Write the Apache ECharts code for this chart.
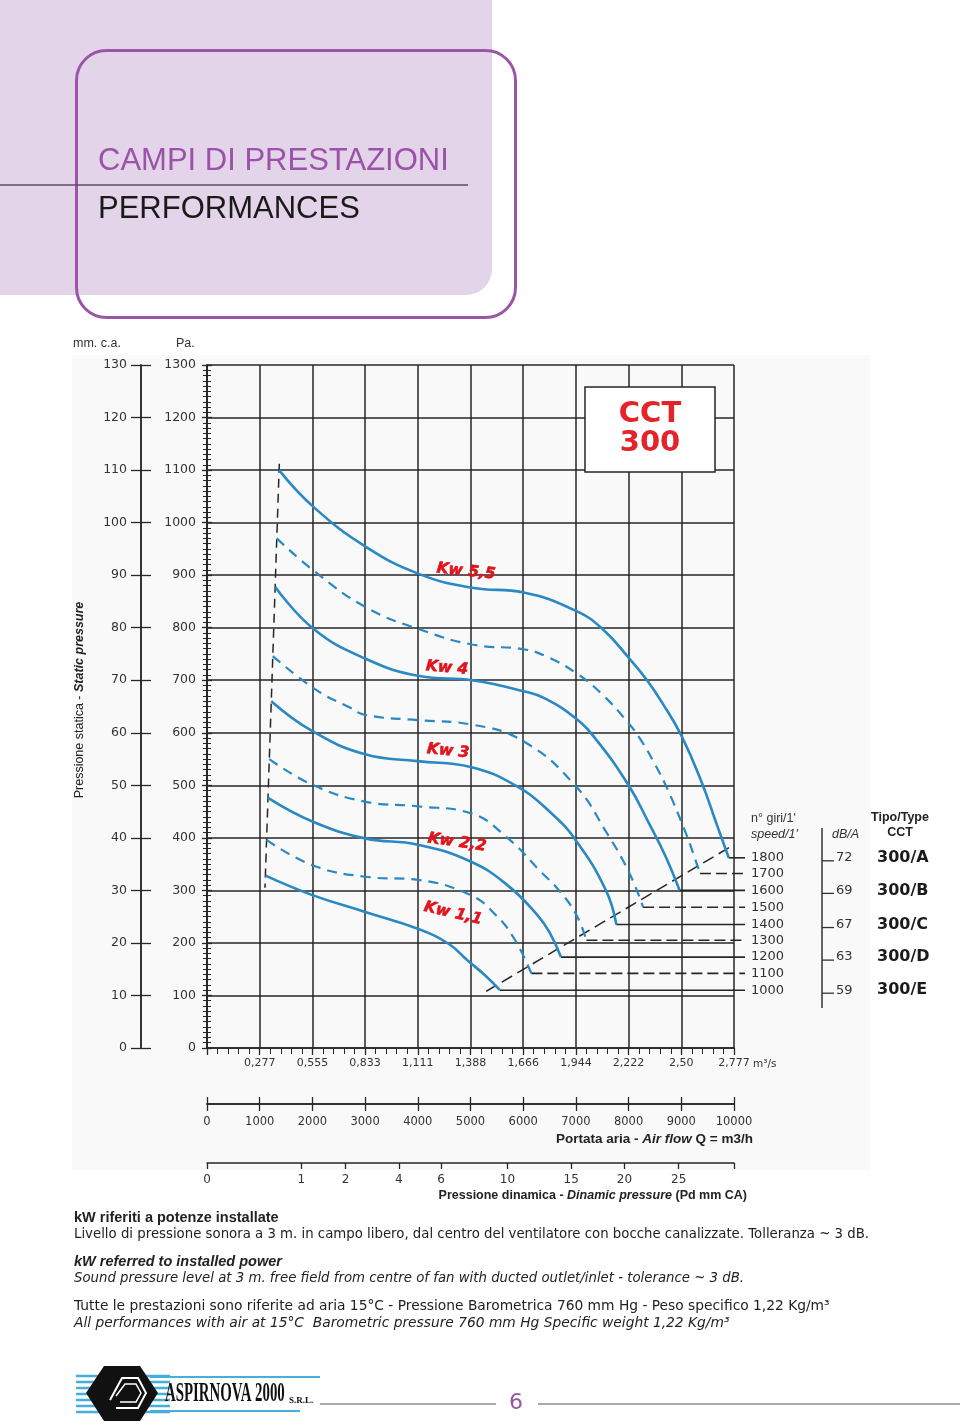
<!DOCTYPE html>
<html><head><meta charset="utf-8">
<script src="https://cdn.jsdelivr.net/npm/echarts@6/dist/echarts.min.js"></script>
<style>html,body{margin:0;padding:0;background:#fff}#c{width:960px;height:1427px}</style>
</head><body><div id="c"></div>
<script>
// ---------- data ----------
const speeds = [1800, 1700, 1600, 1500, 1400, 1300, 1200, 1100, 1000];
const dashedSpeed = [false, true, false, true, false, true, false, true, false];

const q1800 = [1368, 2030, 3030, 4030, 5030, 6010, 7000, 7500, 8000, 8350, 8650, 9000, 9390, 9650, 9900];
const p1800 = [1100, 1029, 953, 902, 876, 867, 832, 798, 743, 700, 655, 595, 505, 432, 362];
const q1700 = [1324, 2030, 3030, 4030, 5030, 6010, 6420, 7000, 7510, 8000, 8240, 8500, 8750, 9050, 9200, 9355];
const p1700 = [970, 908, 838, 797, 768, 759, 746, 714, 672, 618, 585, 540, 490, 418, 378, 332];
const q1600 = [1293, 2030, 3030, 4030, 5030, 6010, 6420, 7000, 7400, 8000, 8400, 8700, 8968];
const p1600 = [878, 797, 740, 708, 700, 679, 665, 627, 585, 500, 425, 365, 300];
const q1500 = [1249, 2050, 2710, 3000, 4000, 5000, 6000, 7000, 7570, 8000, 8276];
const p1500 = [746, 683, 648, 634, 624, 616, 584, 498, 412, 336, 268];
const q1400 = [1220, 2000, 3000, 4000, 5000, 5850, 6500, 7000, 7570, 7767];
const p1400 = [660, 603, 559, 546, 535, 500, 450, 395, 300, 235];
const q1300 = [1183, 2000, 3000, 4000, 5000, 5700, 6330, 6680, 7000, 7200];
const p1300 = [550, 501, 469, 460, 447, 400, 336, 300, 255, 205];
const q1200 = [1158, 2000, 3000, 4000, 5000, 5700, 6270, 6500, 6718];
const p1200 = [476, 431, 399, 387, 355, 310, 253, 220, 173];
const q1100 = [1130, 2000, 3000, 4000, 5000, 5480, 5830, 6155];
const p1100 = [396, 348, 326, 320, 291, 253, 208, 142];
const q1000 = [1110, 2000, 3000, 4000, 4590, 4930, 5280, 5559];
const p1000 = [328, 291, 259, 227, 198, 168, 138, 110];

const curveQ = [q1800, q1700, q1600, q1500, q1400, q1300, q1200, q1100, q1000];
const curveP = [p1800, p1700, p1600, p1500, p1400, p1300, p1200, p1100, p1000];

const leaderEndQ = 10210;                       // leader lines run past the grid to the speed labels
const leftLimitQ = [1372, 1100];
const leftLimitP = [1112, 305];
const diagLimitQ = [5300, 10000];
const diagLimitP = [108, 387];

const kwLabels = ['Kw 5,5', 'Kw 4', 'Kw 3', 'Kw 2,2', 'Kw 1,1'];
const kwAnchorQ = [4915, 4554, 4573, 4744, 4668];
const kwAnchorP = [907, 723, 565, 391, 256];
const kwTilt = [-6, -5, -6, -8, -13];

const dbSpeeds = [1800, 1600, 1400, 1200, 1000];
const dbValues = [72, 69, 67, 63, 59];
const typeLabels = ['300/A', '300/B', '300/C', '300/D', '300/E'];

const m3sTickLabels = ['', '0,277', '0,555', '0,833', '1,111', '1,388', '1,666', '1,944', '2,222', '2,50', '2,777'];
const pdTickLabels = ['0', '1', '2', '4', '6', '10', '15', '20', '25'];
const pdTickQ = [0, 1790, 2630, 3640, 4440, 5700, 6910, 7920, 8950];

// ---------- styles ----------
const FONT = 'DejaVu Sans';
const LS = 'Liberation Sans';
const INK = '#262626';
const BLUE = '#2a88c2';
const RED = '#e0141c';
const PURPLE = '#9b52a8';

const zip = (a, b) => a.map((v, i) => [v, b[i]]);

const series = [];
speeds.forEach((s, i) => {
  series.push({
    name: 'n ' + s, type: 'line', xAxisIndex: 0, yAxisIndex: 0,
    data: zip(curveQ[i], curveP[i]), smooth: 0.45,
    symbol: 'none', z: 4, silent: true,
    lineStyle: { color: BLUE, width: dashedSpeed[i] ? 2.2 : 2.6, type: dashedSpeed[i] ? [10, 7] : 'solid' }
  });
});
speeds.forEach((s, i) => {
  const qe = curveQ[i][curveQ[i].length - 1], pe = curveP[i][curveP[i].length - 1];
  series.push({
    name: 'lead ' + s, type: 'line', xAxisIndex: 4, yAxisIndex: 4, clip: false,
    data: [[qe, pe], [leaderEndQ, pe]], symbol: 'none', z: 3, silent: true,
    lineStyle: { color: INK, width: 1.6, type: dashedSpeed[i] ? [11, 5] : 'solid' },
    endLabel: { show: true, formatter: String(s), distance: 6, color: '#333', fontFamily: FONT, fontSize: 13 }
  });
});
series.push({
  name: 'limit left', type: 'line', clip: false, data: zip(leftLimitQ, leftLimitP), symbol: 'none', z: 3,
  lineStyle: { color: INK, width: 1.5, type: [9, 6] }
});
series.push({
  name: 'limit diag', type: 'line', clip: false, data: zip(diagLimitQ, diagLimitP), symbol: 'none', z: 3,
  lineStyle: { color: INK, width: 1.5, type: [12, 6] }
});
series.push({
  name: 'kw', type: 'scatter', symbolSize: 0.1, itemStyle: { color: RED, opacity: 0 }, z: 6, silent: true,
  data: kwLabels.map((t, i) => ({ value: [kwAnchorQ[i], kwAnchorP[i]], name: t, label: { rotate: kwTilt[i] } })),
  label: { show: true, position: 'inside', formatter: p => p.name, color: RED, opacity: 1, fontFamily: FONT,
           fontWeight: 'bold', fontStyle: 'italic', fontSize: 15.5, textBorderColor: RED, textBorderWidth: 0.6 }
});

const axLine = { show: true, onZero: false, lineStyle: { color: INK, width: 1.5 } };
const tickStyle = { color: INK, width: 1.3 };
const lbl = { fontFamily: FONT, color: '#333' };
const plain = v => String(v);

const option = {
  animation: false,
  backgroundColor: '#ffffff',
  grid: [
    { left: 207, top: 365, width: 527, height: 683, show: false, containLabel: false, outerBoundsMode: 'none' },
    { left: 207, top: 365, width: 538, height: 683, show: false, containLabel: false, outerBoundsMode: 'none' }
  ],
  xAxis: [
    { type: 'value', gridIndex: 0, min: 0, max: 10000, interval: 1000, position: 'bottom', axisLine: axLine,
      axisTick: { show: true, length: 7, lineStyle: tickStyle },
      minorTick: { show: true, splitNumber: 5, length: 6, lineStyle: { color: INK, width: 1 } },
      splitLine: { show: true, lineStyle: { color: INK, width: 1.5 } },
      axisLabel: Object.assign({ margin: 10, fontSize: 11, formatter: v => m3sTickLabels[Math.round(v / 1000)] }, lbl) },
    { type: 'value', gridIndex: 0, min: 0, max: 10000, interval: 1000, position: 'bottom', offset: 56, axisLine: axLine,
      axisTick: { show: true, length: 7, lineStyle: tickStyle }, splitLine: { show: false },
      axisLabel: Object.assign({ margin: 12, fontSize: 11.5, formatter: plain }, lbl) },
    { type: 'value', gridIndex: 0, min: 0, max: 10000, interval: 1000, position: 'bottom', offset: 56, axisLine: axLine,
      axisTick: { show: true, inside: true, length: 7, lineStyle: tickStyle }, splitLine: { show: false },
      axisLabel: { show: false } },
    { type: 'value', gridIndex: 0, min: 0, max: 10000, position: 'bottom', offset: 115, axisLine: axLine,
      axisTick: { show: true, length: 6, lineStyle: tickStyle, customValues: pdTickQ.concat([10000]) },
      splitLine: { show: false },
      axisLabel: Object.assign({ margin: 11, fontSize: 12, customValues: pdTickQ,
        formatter: v => { const k = pdTickQ.indexOf(v); return k < 0 ? '' : pdTickLabels[k]; } }, lbl) },
    { type: 'value', gridIndex: 1, min: 0, max: leaderEndQ, show: false }
  ],
  yAxis: [
    { type: 'value', gridIndex: 0, min: 0, max: 1300, interval: 100, position: 'left', axisLine: axLine,
      axisTick: { show: true, length: 5, lineStyle: tickStyle },
      minorTick: { show: true, splitNumber: 10, length: 4, lineStyle: { color: INK, width: 1 } },
      splitLine: { show: true, lineStyle: { color: INK, width: 1.5 } },
      axisLabel: Object.assign({ margin: 11, fontSize: 12.5, formatter: plain }, lbl) },
    { type: 'value', gridIndex: 0, min: 0, max: 130, interval: 10, position: 'left', offset: 66, axisLine: axLine,
      axisTick: { show: true, length: 10, lineStyle: tickStyle }, splitLine: { show: false },
      axisLabel: Object.assign({ margin: 14, fontSize: 12.5, formatter: plain }, lbl) },
    { type: 'value', gridIndex: 0, min: 0, max: 130, interval: 10, position: 'left', offset: 66, axisLine: axLine,
      axisTick: { show: true, inside: true, length: 10, lineStyle: tickStyle }, splitLine: { show: false },
      axisLabel: { show: false } },
    { type: 'value', gridIndex: 0, min: 0, max: 1300, interval: 100, position: 'left', axisLine: axLine,
      axisTick: { show: true, inside: true, length: 5, lineStyle: tickStyle },
      minorTick: { show: true, splitNumber: 10, length: 4, lineStyle: { color: INK, width: 1 } },
      splitLine: { show: false }, axisLabel: { show: false } },
    { type: 'value', gridIndex: 1, min: 0, max: 1300, show: false }
  ],
  series: series
};

// ---------- static page decoration ----------
const T = (x, y, text, o) => Object.assign({ type: 'text', x: x, y: y, z: 50,
  style: Object.assign({ text: text, fill: '#222', fontFamily: FONT, fontSize: 13.3,
    textAlign: 'left', align: 'left', textVerticalAlign: 'middle', verticalAlign: 'middle' }, o || {}) });

const g = [];
g.push({ type: 'rect', z: -10, shape: { x: 72, y: 355, width: 798, height: 815 }, style: { fill: '#f9f9f9' } });
// header
g.push({ type: 'rect', z: 1, shape: { x: 0, y: 0, width: 492, height: 295, r: [0, 0, 26, 0] }, style: { fill: '#e3d4e9' } });
g.push({ type: 'rect', z: 2, shape: { x: 76.5, y: 50.5, width: 439, height: 267, r: 30 }, style: { fill: 'none', stroke: '#9a56a6', lineWidth: 3 } });
g.push({ type: 'line', z: 2, shape: { x1: 0, y1: 185, x2: 468, y2: 185 }, style: { stroke: '#5f4d66', lineWidth: 1.5 } });
g.push(T(98, 161, 'CAMPI DI PRESTAZIONI', { fontFamily: LS, fontSize: 31, fill: PURPLE }));
g.push(T(98, 209, 'PERFORMANCES', { fontFamily: LS, fontSize: 31, fill: '#1a1a1a' }));
// axis headings
g.push(T(73, 344, 'mm. c.a.', { fontFamily: LS, fontSize: 12.5, fill: '#333' }));
g.push(T(176, 344, 'Pa.', { fontFamily: LS, fontSize: 12.5, fill: '#333' }));
g.push({ type: 'text', x: 80, y: 700, rotation: Math.PI / 2, z: 50,
  style: { text: '{a|Pressione statica - }{b|Static pressure}', fontFamily: LS, fontSize: 12.5, fill: '#222',
    textAlign: 'center', align: 'center', textVerticalAlign: 'middle', verticalAlign: 'middle',
    rich: { a: { fontFamily: LS, fontSize: 12.5, fill: '#222' },
            b: { fontFamily: LS, fontSize: 12.5, fill: '#222', fontStyle: 'italic', fontWeight: 'bold' } } } });
// CCT box
g.push({ type: 'rect', z: 20, shape: { x: 585, y: 387, width: 130, height: 85 }, style: { fill: '#fff', stroke: INK, lineWidth: 1.5 } });
g.push(T(650, 414, 'CCT', { fontWeight: 'bold', fontSize: 29, fill: '#e4232a', textAlign: 'center', align: 'center' }));
g.push(T(650, 443, '300', { fontWeight: 'bold', fontSize: 29, fill: '#e4232a', textAlign: 'center', align: 'center' }));
// bottom axis captions
g.push(T(753, 1064, 'm³/s', { fontSize: 10.5, fill: '#333' }));
g.push({ type: 'text', x: 753, y: 1139, z: 50, style: { text: '{a|Portata aria - }{b|Air flow}{a| Q = m3/h}',
  textAlign: 'right', align: 'right', textVerticalAlign: 'middle', verticalAlign: 'middle',
  rich: { a: { fontFamily: LS, fontSize: 13.5, fontWeight: 'bold', fill: '#222' },
          b: { fontFamily: LS, fontSize: 13.5, fontWeight: 'bold', fontStyle: 'italic', fill: '#222' } } } });
g.push({ type: 'text', x: 747, y: 1196, z: 50, style: { text: '{a|Pressione dinamica - }{b|Dinamic pressure}{a| (Pd mm CA)}',
  textAlign: 'right', align: 'right', textVerticalAlign: 'middle', verticalAlign: 'middle',
  rich: { a: { fontFamily: LS, fontSize: 12.5, fontWeight: 'bold', fill: '#222' },
          b: { fontFamily: LS, fontSize: 12.5, fontWeight: 'bold', fontStyle: 'italic', fill: '#222' } } } });
// right panel headings
g.push(T(751, 819, "n° giri/1'", { fontFamily: LS, fontSize: 12.5, fill: '#333' }));
g.push(T(751, 835, "speed/1'", { fontFamily: LS, fontSize: 12.5, fill: '#333', fontStyle: 'italic' }));
g.push(T(832, 835, 'dB/A', { fontFamily: LS, fontSize: 12.5, fill: '#333', fontStyle: 'italic' }));
g.push(T(900, 818, 'Tipo/Type', { fontFamily: LS, fontSize: 12.5, fontWeight: 'bold', fill: '#222', textAlign: 'center', align: 'center' }));
g.push(T(900, 833, 'CCT', { fontFamily: LS, fontSize: 12.5, fontWeight: 'bold', fill: '#222', textAlign: 'center', align: 'center' }));
g.push({ type: 'line', z: 50, shape: { x1: 822, y1: 828, x2: 822, y2: 1008 }, style: { stroke: '#333', lineWidth: 1.5 } });
// notes
g.push(T(74, 1218, 'kW riferiti a potenze installate', { fontFamily: LS, fontSize: 14.5, fontWeight: 'bold' }));
g.push(T(74, 1235, 'Livello di pressione sonora a 3 m. in campo libero, dal centro del ventilatore con bocche canalizzate. Tolleranza ~ 3 dB.'));
g.push(T(74, 1262, 'kW referred to installed power', { fontFamily: LS, fontSize: 14.5, fontWeight: 'bold', fontStyle: 'italic' }));
g.push(T(74, 1279, 'Sound pressure level at 3 m. free field from centre of fan with ducted outlet/inlet - tolerance ~ 3 dB.', { fontStyle: 'italic' }));
g.push(T(74, 1306, 'Tutte le prestazioni sono riferite ad aria 15°C - Pressione Barometrica 760 mm Hg - Peso specifico 1,22 Kg/m³', { fontSize: 13.8 }));
g.push(T(74, 1323, 'All performances with air at 15°C  Barometric pressure 760 mm Hg Specific weight 1,22 Kg/m³', { fontSize: 13.8, fontStyle: 'italic' }));
// footer logo
[1376, 1382, 1388, 1394, 1400, 1406, 1412].forEach(y => g.push({ type: 'line', z: 40,
  shape: { x1: 76, y1: y, x2: 170, y2: y }, style: { stroke: '#46aedb', lineWidth: 2.5 } }));
g.push({ type: 'line', z: 40, shape: { x1: 150, y1: 1377, x2: 320, y2: 1377 }, style: { stroke: '#46aedb', lineWidth: 2 } });
g.push({ type: 'line', z: 40, shape: { x1: 150, y1: 1411, x2: 300, y2: 1411 }, style: { stroke: '#46aedb', lineWidth: 2 } });
g.push({ type: 'polygon', z: 41, shape: { points: [[104, 1366], [140, 1366], [158, 1393], [140, 1421], [104, 1421], [86, 1393]] }, style: { fill: '#111' } });
g.push({ type: 'polyline', z: 42, shape: { points: [[110, 1400], [122, 1378], [138, 1378], [146, 1393], [138, 1408], [116, 1408]] }, style: { stroke: '#fff', lineWidth: 2, fill: 'none' } });
g.push({ type: 'polyline', z: 42, shape: { points: [[116, 1396], [125, 1384], [136, 1384], [141, 1393], [136, 1402], [120, 1402]] }, style: { stroke: '#fff', lineWidth: 1.5, fill: 'none' } });
g.push({ type: 'text', x: 165, y: 1394, scaleX: 0.55, z: 43, style: { text: 'ASPIRNOVA 2000', fontFamily: 'Liberation Serif', fontWeight: 'bold', fontSize: 27, fill: '#111', textVerticalAlign: 'middle', verticalAlign: 'middle' } });
g.push({ type: 'text', x: 289, y: 1401, z: 43, style: { text: 'S.R.L.', fontFamily: 'Liberation Serif', fontWeight: 'bold', fontSize: 9, fill: '#111', textVerticalAlign: 'middle', verticalAlign: 'middle' } });
g.push({ type: 'line', z: 40, shape: { x1: 320, y1: 1404, x2: 496, y2: 1404 }, style: { stroke: '#555', lineWidth: 1 } });
g.push({ type: 'line', z: 40, shape: { x1: 538, y1: 1404, x2: 960, y2: 1404 }, style: { stroke: '#555', lineWidth: 1 } });
g.push(T(516, 1403, '6', { fontSize: 22, fill: PURPLE, textAlign: 'center', align: 'center' }));

g.forEach((e, i) => { e.id = 'g' + i; });
option.graphic = { elements: g };

const chart = echarts.init(document.getElementById('c'), null, { renderer: 'canvas' });
chart.setOption(option);

// dB/A and type column, aligned to the leader lines of the solid-speed curves
const extra = [];
dbSpeeds.forEach((s, i) => {
  const k = speeds.indexOf(s);
  const pe = curveP[k][curveP[k].length - 1];
  const y = chart.convertToPixel({ seriesIndex: 0 }, [0, pe])[1];
  extra.push({ id: 'r' + i + 'a', type: 'line', z: 50, shape: { x1: 822, y1: y + 3, x2: 834, y2: y + 3 }, style: { stroke: '#333', lineWidth: 1.3 } });
  extra.push(Object.assign(T(836, y, String(dbValues[i]), { fontSize: 13, fill: '#333' }), { id: 'r' + i + 'b' }));
  extra.push(Object.assign(T(877, y, typeLabels[i], { fontSize: 16, fontWeight: 'bold', fill: '#1a1a1a' }), { id: 'r' + i + 'c' }));
});
chart.setOption({ graphic: { elements: extra } });
</script></body></html>
